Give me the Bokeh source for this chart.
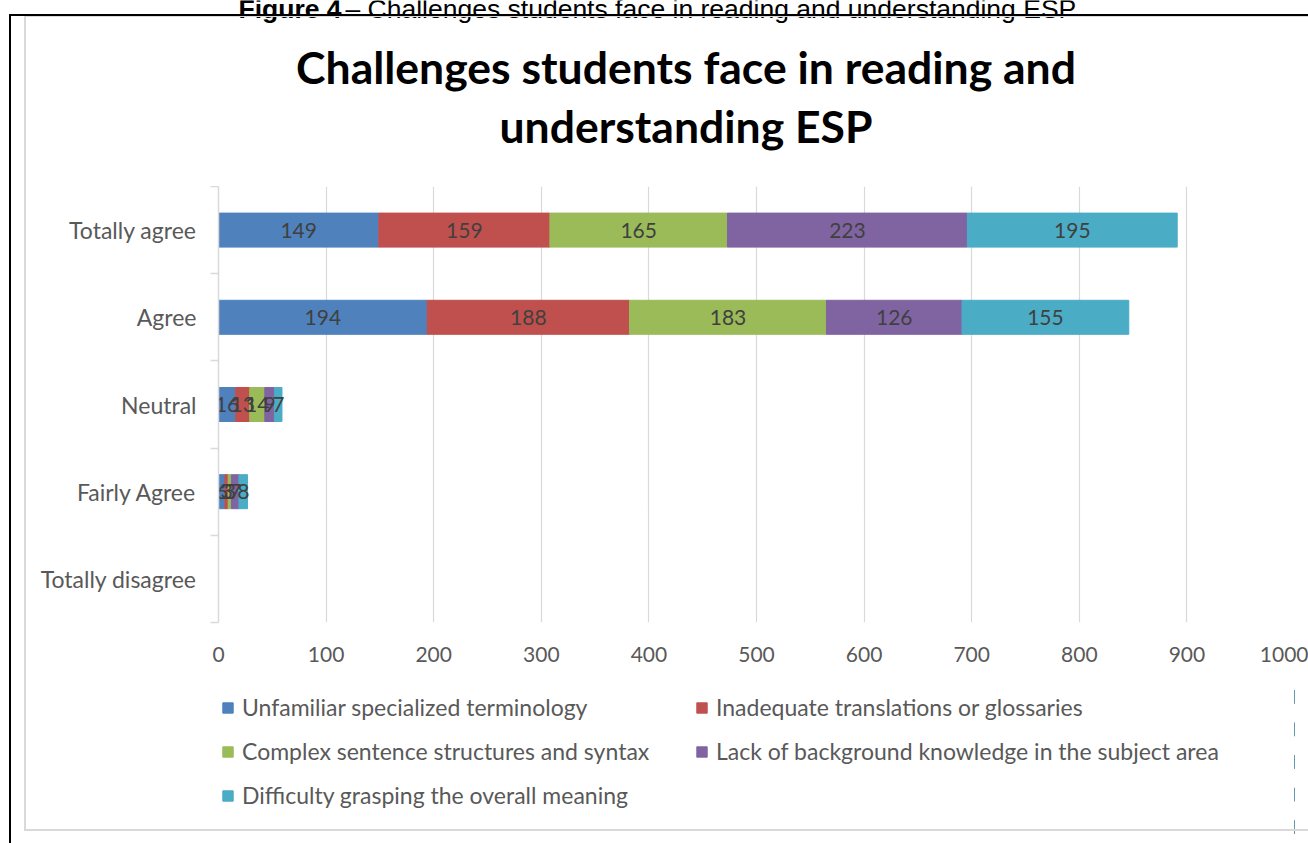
from bokeh.plotting import figure
from bokeh.layouts import column
from bokeh.models import (ColumnDataSource, FactorRange, Range1d, LinearAxis, CategoricalAxis,
                          FixedTicker, Legend, LegendItem, Label, InlineStyleSheet)
from bokeh.embed import file_html
from bokeh.resources import INLINE
from bokeh.core.properties import value

# ---------------- data ----------------
categories = ["Totally agree", "Agree", "Neutral", "Fairly Agree", "Totally disagree"]
series_names = [
    "Unfamiliar specialized terminology",
    "Inadequate translations or glossaries",
    "Complex sentence structures and syntax",
    "Lack of background knowledge in the subject area",
    "Difficulty grasping the overall meaning",
]
unfamiliar = [149, 194, 16, 6, 0]
inadequate = [159, 188, 13, 3, 0]
complex_syntax = [165, 183, 14, 3, 0]
background = [223, 126, 9, 7, 0]
overall = [195, 155, 7, 8, 0]
x_ticks = [0, 100, 200, 300, 400, 500, 600, 700, 800, 900, 1000]
colors = ["#4F81BD", "#C0504D", "#9BBB59", "#8064A2", "#4BACC6"]

title_lines = ["Challenges students face in reading and", "understanding ESP"]
caption_bold = "Figure 4"
caption_rest = "\u2013 Challenges students face in reading and understanding ESP"

keys = ["s0", "s1", "s2", "s3", "s4"]
series_values = [unfamiliar, inadequate, complex_syntax, background, overall]
data = {"cat": categories}
for k, v in zip(keys, series_values):
    data[k] = v
src = ColumnDataSource(data)

font = "Lato"
txt_col = "#595959"
W = 1308
H_TOP, H_CHART, H_LEG = 186, 494, 163
FL, FR = 218, 14      # chart frame borders (the column aligns all frames to these)


def blank_figure(h, xr, yr):
    f = figure(width=W, height=h, output_backend="svg", toolbar_location=None,
               x_range=xr, y_range=yr, x_axis_location=None, y_axis_location=None,
               min_border_left=0, min_border_right=0, min_border_top=0, min_border_bottom=0)
    f.outline_line_color = None
    f.grid.grid_line_color = None
    f.background_fill_color = "white"
    f.border_fill_color = "white"
    return f


# ---------------- header: caption + chart title (x in page pixels) ----------------
top = blank_figure(H_TOP, Range1d(FL, W - FR), Range1d(H_TOP, 0))
for ln, cy in zip(title_lines, [66, 125]):
    top.add_layout(Label(x=685.5, y=cy, text=ln, text_align="center", text_baseline="middle",
                         text_font=font, text_font_size="44.5px", text_font_style="bold",
                         text_color="black"))
top.add_layout(Label(x=238, y=8, text=caption_bold, text_align="left", text_baseline="alphabetic",
                     text_font="Liberation Sans", text_font_size="26.5px", text_font_style="bold",
                     text_color="black"))
top.add_layout(Label(x=345, y=8, text=caption_rest, text_align="left", text_baseline="alphabetic",
                     text_font="Liberation Sans", text_font_size="26.5px", text_color="black"))

# ---------------- chart ----------------
p = figure(width=W, height=H_CHART, output_backend="svg", toolbar_location=None,
           y_range=FactorRange(factors=categories[::-1], range_padding=0),
           x_range=Range1d(0, 1000),
           x_axis_location=None, y_axis_location=None,
           min_border_left=FL, min_border_right=FR, min_border_top=0, min_border_bottom=58)
p.outline_line_color = None
p.background_fill_color = "white"
p.border_fill_color = "white"

xa = LinearAxis(ticker=FixedTicker(ticks=x_ticks))
xa.axis_line_color = None
xa.major_tick_line_color = None
xa.minor_tick_line_color = None
xa.major_label_text_font = font
xa.major_label_text_font_size = "21px"
xa.major_label_text_color = txt_col
xa.major_label_standoff = 18
p.add_layout(xa, "below")

# y axis line with ticks on category boundaries
yn = LinearAxis(ticker=FixedTicker(ticks=list(range(len(categories) + 1))))
yn.axis_line_color = "#D9D9D9"
yn.axis_line_width = 1.5
yn.major_tick_line_color = "#D9D9D9"
yn.major_tick_line_width = 1.5
yn.major_tick_out = 8
yn.major_tick_in = 0
yn.minor_tick_line_color = None
yn.major_label_text_font_size = "0px"
yn.major_label_text_alpha = 0
yn.major_label_standoff = 0
p.add_layout(yn, "left")

ya = CategoricalAxis()
ya.axis_line_color = None
ya.major_tick_line_color = None
ya.major_tick_out = 0
ya.major_tick_in = 0
ya.major_label_text_font = font
ya.major_label_text_font_size = "23px"
ya.major_label_text_color = txt_col
ya.major_label_standoff = 14
p.add_layout(ya, "left")

p.xgrid.ticker = FixedTicker(ticks=x_ticks)
p.xgrid.grid_line_color = "#D9D9D9"
p.xgrid.grid_line_width = 1.2
p.ygrid.grid_line_color = None

renderers = p.hbar_stack(keys, y="cat", height=0.39, color=colors, source=src)

lx, ly, lt = [], [], []
for i, c in enumerate(categories):
    left = 0
    for vals in series_values:
        v = vals[i]
        if v:
            lx.append(left + v / 2)
            ly.append(c)
            lt.append(str(v))
        left += v
p.text(x="x", y="y", text="t", source=ColumnDataSource(dict(x=lx, y=ly, t=lt)),
       text_align="center", text_baseline="middle", text_font=value(font),
       text_font_size="21px", text_color="#404040")

# ---------------- legend strip ----------------
# the same stacked series, kept outside this strip's view, provide the legend swatches
leg = blank_figure(H_LEG, Range1d(-2, -1), FactorRange(factors=categories))
swatches = leg.hbar_stack(keys, y="cat", height=0.39, color=colors, source=src)


def make_legend(idx, loc):
    lg = Legend(items=[LegendItem(label=series_names[i], renderers=[swatches[i]]) for i in idx],
                location=loc, orientation="vertical")
    lg.glyph_width = 13
    lg.glyph_height = 13
    lg.label_standoff = 8
    lg.label_height = 30
    lg.spacing = 14
    lg.padding = 0
    lg.margin = 0
    lg.border_line_color = None
    lg.background_fill_alpha = 0
    lg.label_text_font = font
    lg.label_text_font_size = "23px"
    lg.label_text_color = txt_col
    return lg


leg.add_layout(make_legend([0, 2, 4], (221 - FL, 33)))
leg.add_layout(make_legend([1, 3], (695 - FL, 77)))

# ---------------- page frame lines ----------------
css = """
:host { position: relative; }
:host::before {
  content: ""; position: absolute; z-index: 5; pointer-events: none;
  left: 24px; top: 15px; right: 0px; bottom: 12px;
  border-left: 2px solid #D9D9D9; border-top: 2px solid #D9D9D9; border-bottom: 2px solid #D9D9D9;
}
:host::after {
  content: ""; position: absolute; z-index: 6; pointer-events: none;
  left: 9px; top: 14px; right: 0px; bottom: 0px;
  border-left: 2px solid black; border-top: 2px solid black;
}
"""
page = column(top, p, leg, spacing=0)
page.stylesheets = [InlineStyleSheet(css=css)]

open("out.html", "w").write(file_html(page, INLINE))
